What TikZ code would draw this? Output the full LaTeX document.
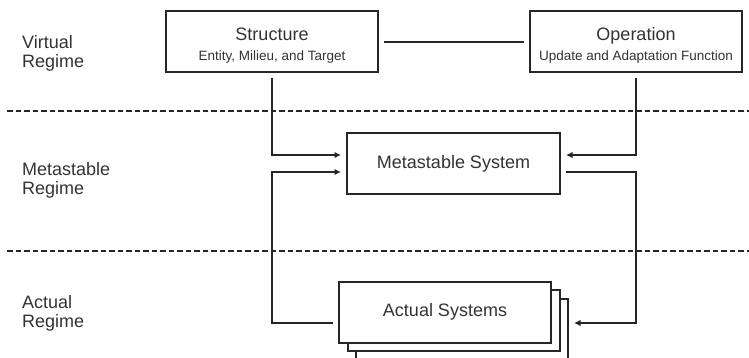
\documentclass[tikz,border=0pt]{standalone}
\usepackage{fontspec}
\setmainfont{Liberation Sans}
\usetikzlibrary{arrows.meta,positioning}

\newcommand{\subtext}[1]{{\fontsize{13.5}{16}\selectfont #1}}
\newcommand{\toprule}{\rule{0pt}{20pt}}

\begin{document}
\begin{tikzpicture}[
    x=1pt, y=-1pt,
    box/.style={rectangle, draw=black!85, fill=white, line width=2pt,
                minimum width=212pt, minimum height=61pt, inner sep=0pt,
                align=center, text=black!80, font=\fontsize{18}{20}\selectfont},
    regime/.style={anchor=west, align=left, inner sep=0pt, text=black!80,
                   font=\fontsize{18}{19}\selectfont},
    line/.style={draw=black!85, line width=2pt, shorten <=5pt, shorten >=5pt},
    arrow/.style={line, -{Latex[length=6.5pt, width=6.5pt]}},
    divider/.style={draw=black!85, line width=2pt, dash pattern=on 5.5pt off 3pt}
]
\useasboundingbox (0,0) rectangle (749,358);

% Regime labels
\node [regime] (virtual) at (22,53) {Virtual\\Regime};
\node [regime] (metareg) at (22,180) {Metastable\\Regime};
\node [regime] (actreg) at (22,313) {Actual\\Regime};

% Regime borders
\draw [divider] (7,111) -- (749,111);
\draw [divider] (7,251) -- (749,251);

% Virtual regime
\node [box] (struct) at (272,42) {\toprule Structure\\\subtext{Entity, Milieu, and Target}};
\node [box] (oper) at (636,42) {\toprule Operation\\\subtext{Update and Adaptation Function}};

% Metastable regime
\node [box, minimum width=213pt] (meta) at (453.5,164) {Metastable System};

% Actual regime (stack of three)
\node [box] (act3) at (462,329) {};
\node [box] (act2) at (453.5,320.5) {};
\node [box] (act) at (445,312) {Actual Systems};

\coordinate (msin1) at ([yshift=9pt]meta.west);
\coordinate (msin2) at ([yshift=-8pt]meta.west);
\coordinate (msin3) at ([yshift=9pt]meta.east);
\coordinate (msout) at ([yshift=-8pt]meta.east);
\coordinate (actout) at ([yshift=-11pt]act.west);

% Connections
\draw [line] (struct) -- (oper);
\draw [arrow] (struct) |- (msin1);
\draw [arrow] (oper) |- (msin3);
\draw [arrow] (actout) -| (msin2 -| struct) -- (msin2);
\draw [arrow] (msout) -| (actout -| oper) -- (actout -| act3.east);

\end{tikzpicture}
\end{document}
